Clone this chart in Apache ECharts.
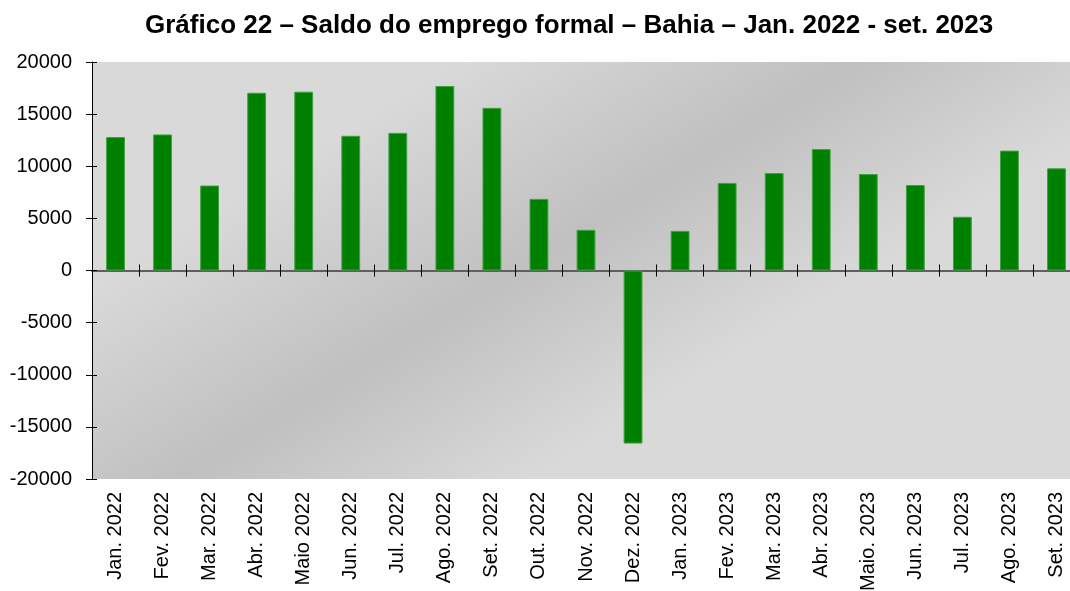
<!DOCTYPE html>
<html>
<head>
<meta charset="utf-8">
<title>Saldo do emprego formal - Bahia</title>
<script src="https://cdn.jsdelivr.net/npm/echarts@6/dist/echarts.min.js"></script>
<style>
  html, body { margin: 0; padding: 0; background: #fff; overflow: hidden; }
  #chart { width: 1080px; height: 591px; }
</style>
</head>
<body>
<div id="chart"></div>
<script>
// meses (rótulos do eixo x)
var meses = ['Jan. 2022', 'Fev. 2022', 'Mar. 2022', 'Abr. 2022', 'Maio 2022', 'Jun. 2022',
  'Jul. 2022', 'Ago. 2022', 'Set. 2022', 'Out. 2022', 'Nov. 2022', 'Dez. 2022',
  'Jan. 2023', 'Fev. 2023', 'Mar. 2023', 'Abr. 2023', 'Maio. 2023', 'Jun. 2023',
  'Jul. 2023', 'Ago. 2023', 'Set. 2023'];

// saldo do emprego formal
var saldo = [12800, 13050, 8150, 17050, 17150, 12920,
  13200, 17700, 15600, 6870, 3900, -16600,
  3800, 8400, 9350, 11650, 9250, 8200,
  5150, 11500, 9800];

// escala do eixo y
var yMin = -20000;
var yMax = 20000;
var yPasso = 5000;

var fonte = "'Liberation Sans', Arial, sans-serif";

var myChart = echarts.init(document.getElementById('chart'));

// fundo cinza com faixa diagonal mais escura
var fundo = new echarts.graphic.LinearGradient(0, 0, 0.462, 1.779, [
  { offset: 0, color: '#d9d9d9' },
  { offset: 0.22, color: '#d9d9d9' },
  { offset: 0.46, color: '#c0c0c0' },
  { offset: 0.67, color: '#d9d9d9' },
  { offset: 1, color: '#d9d9d9' }
]);

var option = {
  animation: false,
  title: {
    text: 'Gráfico 22 – Saldo do emprego formal – Bahia – Jan. 2022 - set. 2023',
    left: 140,
    top: 8,
    textStyle: { fontFamily: fonte, fontSize: 26, fontWeight: 'bold', color: '#000' }
  },
  grid: {
    left: 92,
    right: 0,
    top: 62,
    bottom: 112,
    containLabel: false,
    outerBoundsMode: 'none',
    show: true,
    borderWidth: 0,
    backgroundColor: fundo
  },
  xAxis: [
    {
      // linha no zero + ticks para baixo
      type: 'category',
      data: meses,
      position: 'bottom',
      axisLine: { onZero: true, lineStyle: { color: '#5f5f5f', width: 2 } },
      axisTick: { show: true, interval: 0, length: 6, lineStyle: { color: '#000' } },
      axisLabel: { show: false, interval: 0 }
    },
    {
      // ticks para cima (cruzando a linha)
      type: 'category',
      data: meses,
      position: 'bottom',
      axisLine: { show: false, onZero: true },
      axisTick: { show: true, interval: 0, inside: true, length: 6, lineStyle: { color: '#000' } },
      axisLabel: { show: false, interval: 0 }
    },
    {
      // rótulos na base do gráfico
      type: 'category',
      data: meses,
      position: 'bottom',
      axisLine: { show: false, onZero: false },
      axisTick: { show: false },
      axisLabel: {
        interval: 0,
        rotate: 90,
        margin: 13,
        color: '#000',
        fontFamily: fonte,
        fontSize: 20
      }
    }
  ],
  yAxis: [
    {
      type: 'value',
      min: yMin,
      max: yMax,
      interval: yPasso,
      position: 'left',
      axisLine: { show: true, lineStyle: { color: '#000', width: 1 } },
      axisTick: { show: true, length: 6, lineStyle: { color: '#000' } },
      splitLine: { show: false },
      axisLabel: {
        margin: 20, color: '#000', fontFamily: fonte, fontSize: 20,
        formatter: function (v) { return String(v); }
      }
    },
    {
      type: 'value',
      min: yMin,
      max: yMax,
      interval: yPasso,
      position: 'left',
      axisLine: { show: false },
      axisTick: { show: true, inside: true, length: 5, lineStyle: { color: '#000' } },
      splitLine: { show: false },
      axisLabel: { show: false }
    }
  ],
  series: [
    {
      name: 'Saldo',
      type: 'bar',
      xAxisIndex: 0,
      yAxisIndex: 0,
      data: saldo,
      barWidth: '40%',
      itemStyle: { color: '#008000', borderColor: '#40a040', borderWidth: 1 }
    }
  ]
};

myChart.setOption(option);
</script>
</body>
</html>
